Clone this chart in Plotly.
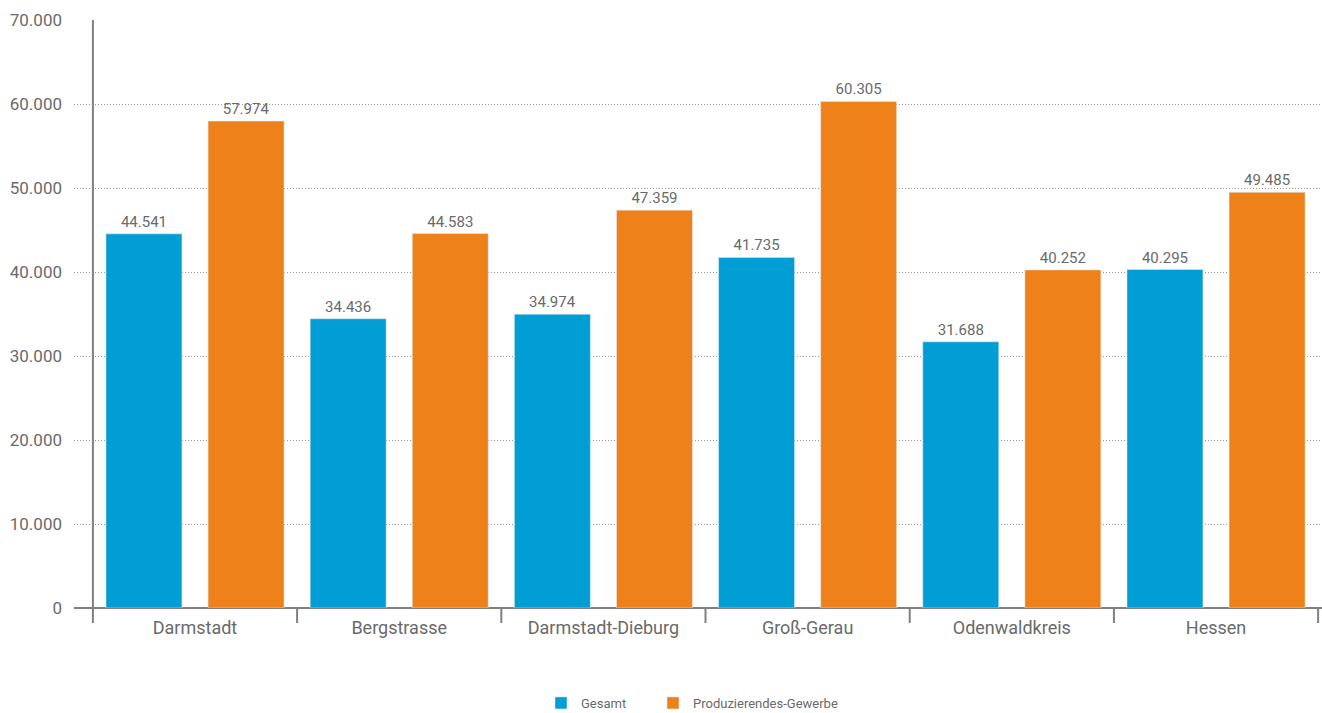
import plotly.graph_objects as go

categories = ["Darmstadt", "Bergstrasse", "Darmstadt-Dieburg", "Groß-Gerau", "Odenwaldkreis", "Hessen"]
gesamt = [44541, 34436, 34974, 41735, 31688, 40295]
produzierendes = [57974, 44583, 47359, 60305, 40252, 49485]
series_names = ["Gesamt", "Produzierendes-Gewerbe"]
y_ticks = [0, 10000, 20000, 30000, 40000, 50000, 60000, 70000]

BLUE = "#009ED5"
ORANGE = "#EE8119"
GRAY_TXT = "#6a6a6a"
AXIS = "#808080"
FONT = "Roboto, Arial, sans-serif"

bar_w = 0.372
fig = go.Figure()
fig.add_trace(go.Bar(
    x=categories, y=gesamt, name=series_names[0], marker_color=BLUE,
    width=bar_w, offset=-0.436, legend="legend",
    texttemplate="%{y:,.0f}", textposition="outside",
    textfont=dict(size=15, color=GRAY_TXT, family=FONT), cliponaxis=False,
))
fig.add_trace(go.Bar(
    x=categories, y=produzierendes, name=series_names[1], marker_color=ORANGE,
    width=bar_w, offset=0.064, legend="legend2",
    texttemplate="%{y:,.0f}", textposition="outside",
    textfont=dict(size=15, color=GRAY_TXT, family=FONT), cliponaxis=False,
))

plot_l, plot_w, plot_h = 74, 1248, 588
tick_len_paper = 15 / plot_h
shapes = []
for i in range(len(categories) + 1):
    xb = i - 0.5
    shapes.append(dict(type="line", xref="x", yref="paper", x0=xb, x1=xb,
                       y0=-tick_len_paper, y1=(1 if i == 0 else 0),
                       line=dict(color=AXIS, width=2), layer="above"))

legend_common = dict(orientation="h", xanchor="left", yanchor="middle",
                     y=-(703 - 608) / plot_h,
                     font=dict(size=13, color=GRAY_TXT, family=FONT),
                     bgcolor="rgba(0,0,0,0)")

fig.update_layout(
    width=1322, height=713,
    margin=dict(l=plot_l, r=0, t=20, b=105, autoexpand=False),
    paper_bgcolor="white", plot_bgcolor="white",
    separators=",.",
    font=dict(family=FONT, color=GRAY_TXT),
    barmode="group",
    showlegend=True,
    legend=dict(x=(541 - plot_l) / plot_w, **legend_common),
    legend2=dict(x=(653 - plot_l) / plot_w, **legend_common),
    xaxis=dict(range=[-0.5926, 5.519], showgrid=False, showline=False, ticks="",
               tickfont=dict(size=18, color=GRAY_TXT, family=FONT),
               ticklabelstandoff=7, zeroline=False),
    yaxis=dict(range=[0, 70000], tickvals=y_ticks, tickformat=",.0f",
               showgrid=True, gridcolor="#9a9a9a", griddash="1px,2px", gridwidth=1,
               zeroline=True, zerolinecolor=AXIS, zerolinewidth=2,
               showline=False, ticks="", ticklabelstandoff=11,
               tickfont=dict(size=17, color=GRAY_TXT, family=FONT)),
    shapes=shapes,
)

fig.write_html("out.html")
